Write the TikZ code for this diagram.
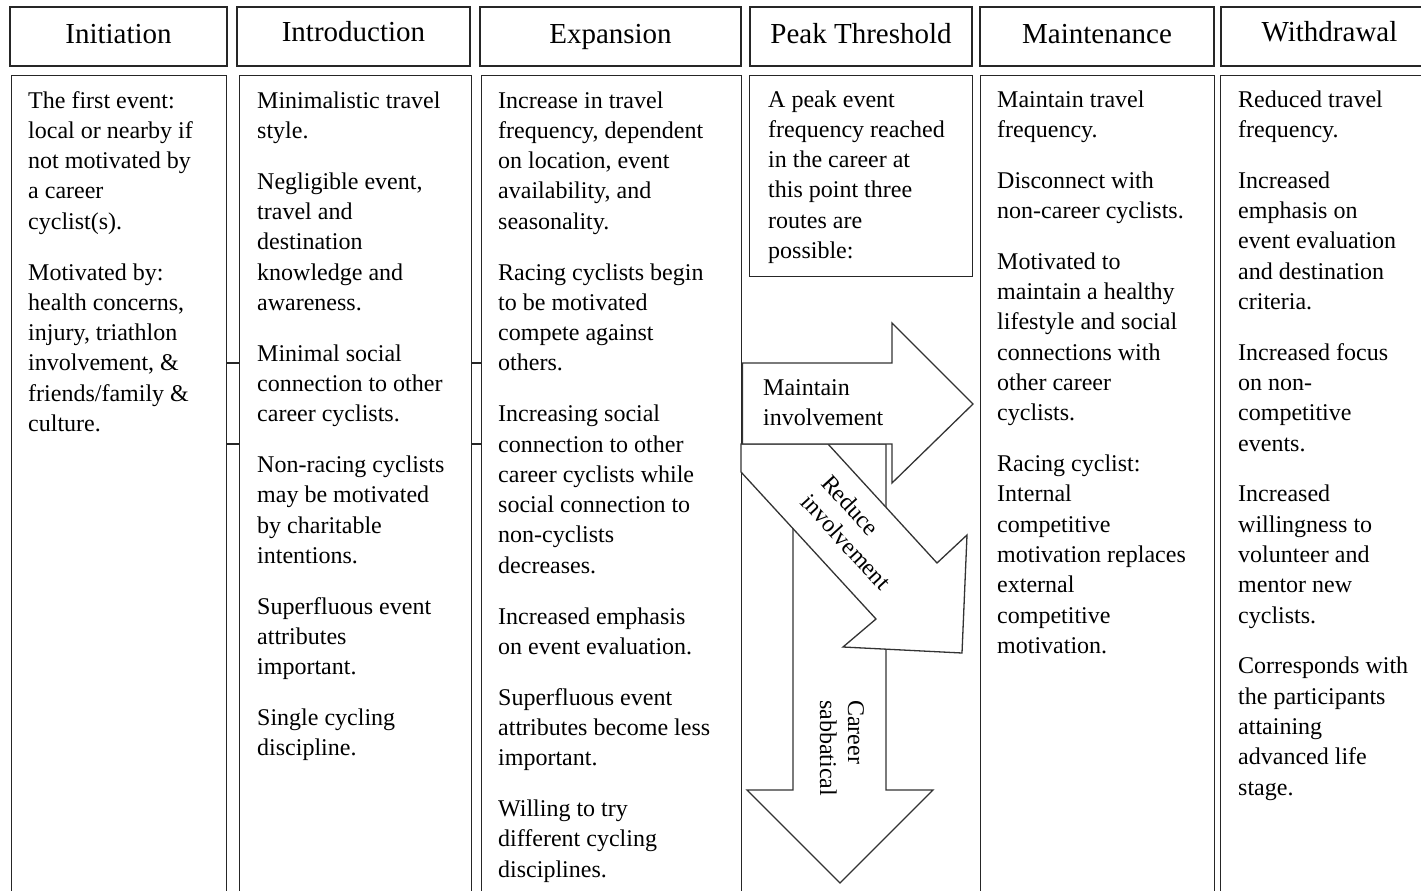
\documentclass[tikz,border=0pt]{standalone}
\usepackage{fontspec}
\setmainfont{Liberation Serif}
\newcommand\coltext[1]{\parbox[t]{260pt}{\fontsize{24}{30.3}\selectfont\raggedright\parindent=0pt\parskip=20.5pt\relax #1}}
\newcommand\rottext[2]{\parbox[t]{200pt}{\fontsize{24}{#1}\selectfont\raggedright\parindent=0pt\relax #2}}
\begin{document}
\begin{tikzpicture}[x=1pt,y=-1pt,
  frame/.style={draw=black!85, line width=1.4pt, inner sep=0pt},
  hdr/.style={frame, font=\fontsize{29}{34}\selectfont, text height=21pt, text depth=6pt, minimum height=59pt},
  body/.style={frame, anchor=north west},
  txt/.style={anchor=base west, inner sep=0pt},
  arr/.style={draw=black!80, line width=1.3pt, fill=white, line join=miter}]
\useasboundingbox (0,0) rectangle (1421,891);
\clip (0,0) rectangle (1421,891);

% headers
\node[hdr, minimum width=217pt] (hInit) at (118.5,36.5) {Initiation};
\node[hdr, minimum width=233pt, text height=19pt, text depth=8pt] (hIntro) at (353.5,36.5) {Introduction};
\node[hdr, minimum width=261pt] (hExp) at (610.5,36.5) {Expansion};
\node[hdr, minimum width=222pt] (hPeak) at (861,36.5) {Peak Threshold};
\node[hdr, minimum width=234pt] (hMaint) at (1097,36.5) {Maintenance};
\node[hdr, minimum width=217pt, text height=19pt, text depth=8pt] (hWith) at (1329.5,36.5) {Withdrawal};

% bodies
\node[body, minimum width=215pt, minimum height=830pt] (bInit) at (11,75) {};
\node[body, minimum width=232pt, minimum height=830pt] (bIntro) at (239,75) {};
\node[body, minimum width=260pt, minimum height=830pt] (bExp) at (481,75) {};
\node[body, minimum width=223pt, minimum height=201pt] (bPeak) at (749,75) {};
\node[body, minimum width=234pt, minimum height=830pt] (bMaint) at (980,75) {};
\node[body, minimum width=220pt, minimum height=830pt] (bWith) at (1220,75) {};

% connectors between columns
\draw[frame] (bInit.east |- 0,363) -- (bIntro.west |- 0,363);
\draw[frame] (bInit.east |- 0,444) -- (bIntro.west |- 0,444);
\draw[frame] (bIntro.east |- 0,363) -- (bExp.west |- 0,363);
\draw[frame] (bIntro.east |- 0,444) -- (bExp.west |- 0,444);

% arrows
\draw[arr] (793,444) -- (793,790) -- (747,790) -- (840,883) -- (933,790) -- (886,790) -- (886,444) -- cycle;
\draw[arr] (741,472) -- (876,619) -- (843,647) -- (962,653) -- (967,535) -- (937,563) -- (828,444) -- (741,444) -- cycle;
\draw[arr] (bExp.east |- 0,363) -- (892,363) -- (892,323) -- (973,404) -- (892,483) -- (892,444) -- (bExp.east |- 0,444) -- cycle;

\node[txt] (tMaintain) at (763,395) {\rottext{30}{Maintain\\ involvement}};
\node[txt, rotate=-47.5] (tReduce) at (820,484) {\rottext{28}{Reduce\\ involvement}};
\node[txt, rotate=-90] (tSabb) at (848,700) {\rottext{28}{Career\\ sabbatical}};

% column texts
\node[txt] (xInit) at (28,108) {\coltext{The first event:\\ local or nearby if\\ not motivated by\\ a career\\ cyclist(s).\par
Motivated by:\\ health concerns,\\ injury, triathlon\\ involvement, \&\\ friends/family \&\\ culture.}};

\node[txt] (xIntro) at (257,108) {\coltext{Minimalistic travel\\ style.\par
Negligible event,\\ travel and\\ destination\\ knowledge and\\ awareness.\par
Minimal social\\ connection to other\\ career cyclists.\par
Non-racing cyclists\\ may be motivated\\ by charitable\\ intentions.\par
Superfluous event\\ attributes\\ important.\par
Single cycling\\ discipline.}};

\node[txt] (xExp) at (498,108) {\coltext{Increase in travel\\ frequency, dependent\\ on location, event\\ availability, and\\ seasonality.\par
Racing cyclists begin\\ to be motivated\\ compete against\\ others.\par
Increasing social\\ connection to other\\ career cyclists while\\ social connection to\\ non-cyclists\\ decreases.\par
Increased emphasis\\ on event evaluation.\par
Superfluous event\\ attributes become less\\ important.\par
Willing to try\\ different cycling\\ disciplines.}};

\node[txt] (xPeak) at (768,107) {\coltext{A peak event\\ frequency reached\\ in the career at\\ this point three\\ routes are\\ possible:}};

\node[txt] (xMaint) at (997,107) {\coltext{Maintain travel\\ frequency.\par
Disconnect with\\ non-career cyclists.\par
Motivated to\\ maintain a healthy\\ lifestyle and social\\ connections with\\ other career\\ cyclists.\par
Racing cyclist:\\ Internal\\ competitive\\ motivation replaces\\ external\\ competitive\\ motivation.}};

\node[txt] (xWith) at (1238,107) {\coltext{Reduced travel\\ frequency.\par
Increased\\ emphasis on\\ event evaluation\\ and destination\\ criteria.\par
Increased focus\\ on non-\\ competitive\\ events.\par
Increased\\ willingness to\\ volunteer and\\ mentor new\\ cyclists.\par
Corresponds with\\ the participants\\ attaining\\ advanced life\\ stage.}};
\end{tikzpicture}
\end{document}
